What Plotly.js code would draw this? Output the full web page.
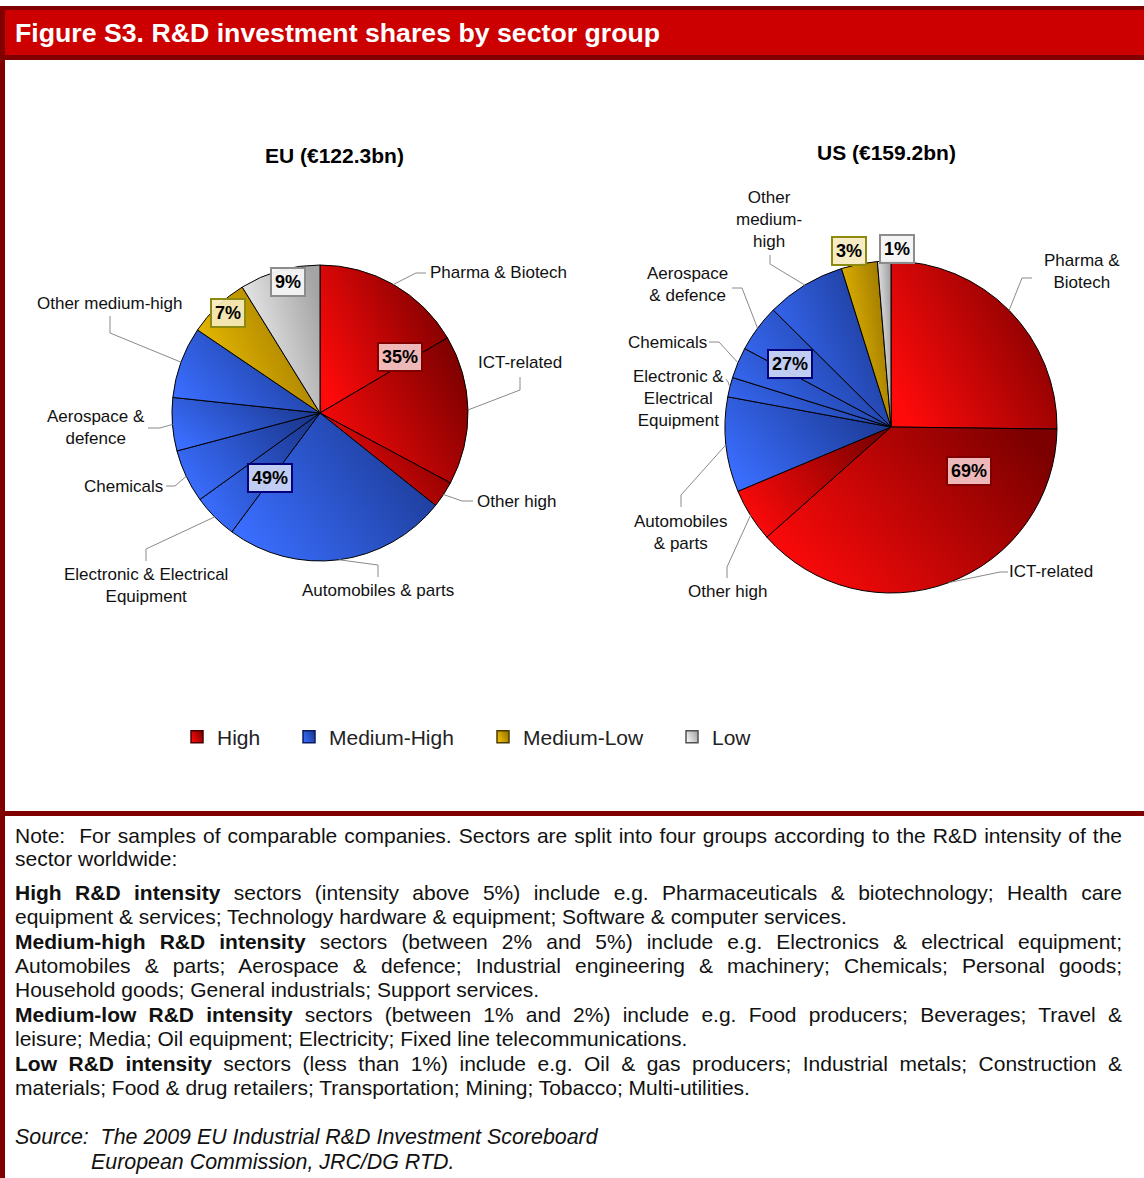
<!DOCTYPE html>
<html>
<head>
<meta charset="utf-8">
<script src="https://cdn.plot.ly/plotly-3.0.1.min.js"></script>
<style>
html,body{margin:0;padding:0;background:#fff;}
body{width:1144px;height:1178px;position:relative;overflow:hidden;font-family:"Liberation Sans",Arial,sans-serif;}
#chart{position:absolute;left:0;top:0;width:1144px;height:811px;}
.barleft{position:absolute;left:0;top:6px;width:5px;height:1172px;background:#800000;z-index:6;}
.header{position:absolute;left:0;top:6px;width:1144px;height:45px;background:#cc0000;border-top:4px solid #800000;border-bottom:5px solid #800000;z-index:5;}
.header span{position:absolute;left:15px;top:1px;line-height:45px;color:#fff;font-weight:bold;font-size:26.7px;white-space:nowrap;}
.sep{position:absolute;left:0;top:811px;width:1144px;height:5px;background:#800000;z-index:5;}
.ln{position:absolute;left:15px;width:1107px;font-size:21px;line-height:24.4px;color:#111;white-space:nowrap;}
.j{text-align:justify;text-align-last:justify;white-space:normal;}
.it{font-style:italic;font-size:21.4px;}
</style>
</head>
<body>
<div id="chart"></div>
<div class="barleft"></div>
<div class="header"><span>Figure S3. R&amp;D investment shares by sector group</span></div>
<div class="sep"></div>

<div class="ln j" style="top:824px">Note:&nbsp; For samples of comparable companies. Sectors are split into four groups according to the R&amp;D intensity of the</div>
<div class="ln" style="top:847px">sector worldwide:</div>
<div class="ln j" style="top:881px"><b>High R&amp;D intensity</b> sectors (intensity above 5%) include e.g. Pharmaceuticals &amp; biotechnology; Health care</div>
<div class="ln" style="top:905px">equipment &amp; services; Technology hardware &amp; equipment; Software &amp; computer services.</div>
<div class="ln j" style="top:930px"><b>Medium-high R&amp;D intensity</b> sectors (between 2% and 5%) include e.g. Electronics &amp; electrical equipment;</div>
<div class="ln j" style="top:954px">Automobiles &amp; parts; Aerospace &amp; defence; Industrial engineering &amp; machinery; Chemicals; Personal goods;</div>
<div class="ln" style="top:978px">Household goods; General industrials; Support services.</div>
<div class="ln j" style="top:1003px"><b>Medium-low R&amp;D intensity</b> sectors (between 1% and 2%) include e.g. Food producers; Beverages; Travel &amp;</div>
<div class="ln" style="top:1027px">leisure; Media; Oil equipment; Electricity; Fixed line telecommunications.</div>
<div class="ln j" style="top:1052px"><b>Low R&amp;D intensity</b> sectors (less than 1%) include e.g. Oil &amp; gas producers; Industrial metals; Construction &amp;</div>
<div class="ln" style="top:1076px">materials; Food &amp; drug retailers; Transportation; Mining; Tobacco; Multi-utilities.</div>
<div class="ln it" style="top:1125px">Source:&nbsp; The 2009 EU Industrial R&amp;D Investment Scoreboard</div>
<div class="ln it" style="top:1150px;left:91px">European Commission, JRC/DG RTD.</div>

<script>
// ---------------- DATA ----------------
const sectors = ['Pharma & Biotech', 'ICT-related', 'Other high', 'Automobiles & parts',
  'Electronic & Electrical Equipment', 'Chemicals', 'Aerospace & defence',
  'Other medium-high', 'Medium-low sectors', 'Low sectors'];
const sectorGroups = ['High', 'High', 'High', 'Medium-High', 'Medium-High', 'Medium-High',
  'Medium-High', 'Medium-High', 'Medium-Low', 'Low'];
const euShares = [16.5, 16.3, 2.9, 24.4, 4.9, 5.8, 5.8, 7.8, 6.7, 8.8];
const usShares = [25.1, 38.1, 5.2, 9.2, 1.9, 3.0, 4.6, 7.7, 3.5, 1.3];
const groups = ['High', 'Medium-High', 'Medium-Low', 'Low'];
const euGroupPct = [35, 49, 7, 9];
const usGroupPct = [69, 27, 3, 1];
const euTitle = 'EU (€122.3bn)';
const usTitle = 'US (€159.2bn)';
const euSectorText = ['Pharma & Biotech', 'ICT-related', 'Other high', 'Automobiles & parts',
  'Electronic & Electrical<br>Equipment', 'Chemicals', 'Aerospace &<br>defence', 'Other medium-high', null, null];
const usSectorText = ['Pharma &<br>Biotech', 'ICT-related', 'Other high', 'Automobiles<br>& parts',
  'Electronic &<br>Electrical<br>Equipment', 'Chemicals', 'Aerospace<br>& defence', 'Other<br>medium-<br>high', null, null];

// ---------------- STYLE / LAYOUT ----------------
const W = 1144, H = 811;
const FONT = 'Liberation Sans, Arial, Helvetica, sans-serif';
const groupColor = {'High': '#c00000', 'Medium-High': '#2a52d6', 'Medium-Low': '#c89c00', 'Low': '#d6d6d6'};
const groupEdge = {'High': '#4a0000', 'Medium-High': '#0a1a60', 'Medium-Low': '#4a3a00', 'Low': '#505050'};
const groupGrad = {
  'High': ['#ff0a0a', '#7c0000'],
  'Medium-High': ['#3a6eff', '#1b3890'],
  'Medium-Low': ['#f2c200', '#987300'],
  'Low': ['#f8f8f8', '#a4a4a4']
};
const boxStyle = {
  'High': {bg: 'rgba(245,200,200,0.92)', bd: '#800000'},
  'Medium-High': {bg: 'rgba(205,215,245,0.92)', bd: '#00007a'},
  'Medium-Low': {bg: 'rgba(246,234,190,0.92)', bd: '#8c8a10'},
  'Low': {bg: 'rgba(244,244,244,0.95)', bd: '#8c8c8c'}
};

const pies = [
  { shares: euShares, groupPct: euGroupPct, title: euTitle, text: euSectorText,
    cx: 320, cy: 413, r: 148, titlePos: [334, 155],
    labelPos: [[498,272],[520,363],[516,501],[378,590],[146,585],[124,486],[96,428],[110,303]],
    leader: [[[426,273],[416,273]],[[520,377],[520,390]],[[473,501],[462,501]],[[378,577],[378,565]],
             [[146,561],[146,549]],[[166,486],[175,486]],[[148,428],[160,428]],[[110,316],[110,333]]],
    groupPos: [[400,357],[270,478],[228,313],[288,282]] },
  { shares: usShares, groupPct: usGroupPct, title: usTitle, text: usSectorText,
    cx: 891, cy: 427, r: 166, titlePos: [886, 152],
    labelPos: [[1082,271],[1051,571],[727,591],[681,532],[678,398],[667,342],[687,284],[769,219]],
    leader: [[[1032,278],[1022,278]],[[1008,572],[1000,572]],[[727,578],[727,567]],[[681,507],[681,495]],
             [[726,379],[728,382]],[[709,342],[719,342]],[[732,288],[742,288]],[[770,255],[770,264]]],
    groupPos: [[969,471],[790,364],[849,251],[897,249]] }
];

const px = x => x / W;
const py = y => 1 - y / H;

const data = [];
const annotations = [];
const shapes = [];

pies.forEach((p, k) => {
  data.push({
    type: 'pie', values: p.shares, labels: sectors, sort: false, direction: 'clockwise', rotation: 0,
    textinfo: 'none', hoverinfo: 'skip', showlegend: false,
    marker: {colors: sectorGroups.map(g => groupColor[g]), line: {color: '#000', width: 1}},
    domain: {x: [px(p.cx - p.r), px(p.cx + p.r)], y: [py(p.cy + p.r), py(p.cy - p.r)]}
  });
  annotations.push({xref: 'paper', yref: 'paper', x: px(p.titlePos[0]), y: py(p.titlePos[1]),
    text: '<b>' + p.title + '</b>', showarrow: false, font: {size: 21, color: '#000'}, xanchor: 'center', yanchor: 'middle'});
  const total = p.shares.reduce((a, b) => a + b, 0);
  let cum = 0;
  p.shares.forEach((v, i) => {
    const mid = (cum + v / 2) / total * 2 * Math.PI;
    cum += v;
    if (!p.text[i]) return;
    const ex = p.cx + p.r * Math.sin(mid), ey = p.cy - p.r * Math.cos(mid);
    annotations.push({xref: 'paper', yref: 'paper', x: px(p.labelPos[i][0]), y: py(p.labelPos[i][1]),
      text: p.text[i], showarrow: false, font: {size: 17, color: '#111'}, xanchor: 'center', yanchor: 'middle', align: 'center'});
    const [a, b] = p.leader[i];
    shapes.push({type: 'path', xref: 'paper', yref: 'paper',
      path: `M ${px(a[0])},${py(a[1])} L ${px(b[0])},${py(b[1])} L ${px(ex)},${py(ey)}`,
      line: {color: '#8a8a8a', width: 1}});
  });
  groups.forEach((g, j) => {
    annotations.push({xref: 'paper', yref: 'paper', x: px(p.groupPos[j][0]), y: py(p.groupPos[j][1]),
      text: '<b>' + p.groupPct[j] + '%</b>', showarrow: false, font: {size: 18, color: '#000'},
      bgcolor: boxStyle[g].bg, bordercolor: boxStyle[g].bd, borderwidth: 2, borderpad: 3,
      xanchor: 'center', yanchor: 'middle'});
  });
});

const legendX = [177, 289, 483, 672];
const legendIds = ['legend', 'legend2', 'legend3', 'legend4'];
groups.forEach((g, j) => {
  data.push({type: 'scatter', mode: 'markers', x: [null], y: [null], name: g, legend: legendIds[j],
    marker: {symbol: 'square', size: 12, color: groupColor[g], line: {color: groupEdge[g], width: 1.5}},
    hoverinfo: 'skip'});
});

const layout = {
  width: W, height: H, margin: {l: 0, r: 0, t: 0, b: 0},
  paper_bgcolor: 'rgba(0,0,0,0)', plot_bgcolor: 'rgba(0,0,0,0)',
  font: {family: FONT, color: '#111'},
  hovermode: false,
  xaxis: {visible: false, range: [0, 1]}, yaxis: {visible: false, range: [0, 1]},
  annotations: annotations, shapes: shapes
};
legendIds.forEach((id, j) => {
  layout[id] = {x: px(legendX[j]), y: py(737), xanchor: 'left', yanchor: 'middle', orientation: 'h',
    bgcolor: 'rgba(0,0,0,0)', borderwidth: 0, font: {size: 21, color: '#222', family: FONT}};
});

function rgbKey(hex) {
  const n = parseInt(hex.slice(1), 16);
  return 'rgb(' + ((n >> 16) & 255) + ',' + ((n >> 8) & 255) + ',' + (n & 255) + ')';
}

Plotly.newPlot('chart', data, layout, {staticPlot: true, displayModeBar: false}).then(gd => {
  const ns = 'http://www.w3.org/2000/svg';
  const svg = gd.querySelector('svg.main-svg');
  let defs = svg.querySelector('defs');
  if (!defs) { defs = document.createElementNS(ns, 'defs'); svg.insertBefore(defs, svg.firstChild); }
  const map = {};
  groups.forEach((g, j) => {
    const lg = document.createElementNS(ns, 'linearGradient');
    lg.setAttribute('id', 'grad' + j);
    lg.setAttribute('x1', '0'); lg.setAttribute('y1', '0.75');
    lg.setAttribute('x2', '1'); lg.setAttribute('y2', '0.25');
    [[0, groupGrad[g][0]], [1, groupGrad[g][1]]].forEach(([o, c]) => {
      const s = document.createElementNS(ns, 'stop');
      s.setAttribute('offset', o); s.setAttribute('stop-color', c);
      lg.appendChild(s);
    });
    defs.appendChild(lg);
    map[rgbKey(groupColor[g])] = 'url(#grad' + j + ')';
  });
  gd.querySelectorAll('path.surface, path.scatterpts').forEach(el => {
    const f = (el.style.fill || '').replace(/\s/g, '');
    if (map[f]) el.style.fill = map[f];
  });
});
</script>
</body>
</html>
